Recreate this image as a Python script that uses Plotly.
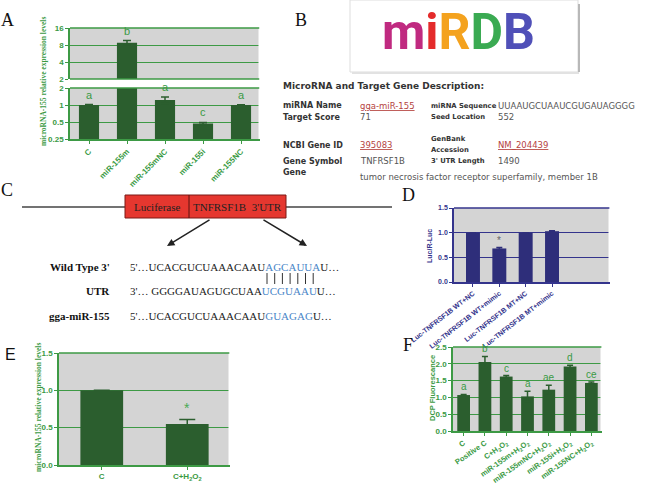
import math
import plotly.graph_objects as go

W, H = 650, 488
def px(x): return x / W
def py(y): return 1 - y / H

# ---------------- data ----------------
# Panel A (broken log axis)
a_cats = ["C", "miR-155m", "miR-155mNC", "miR-155i", "miR-155NC"]
a_vals = [1.0, 8.8, 1.22, 0.47, 1.0]
a_errs = [0.02, 0.8, 0.16, 0.02, 0.01]
a_letters = ["a", "b", "a", "c", "a"]
a_break = 2.0
a_lower_ticks = [0.25, 0.5, 1, 2]
a_upper_ticks = [2, 4, 8, 16]

# Panel D
d_cats = ["Luc-TNFRSF1B WT+NC", "Luc-TNFRSF1B WT+mimic",
          "Luc-TNFRSF1B MT+NC", "Luc-TNFRSF1B MT+mimic"]
d_vals = [1.0, 0.68, 1.0, 1.03]
d_errs = [0.0, 0.02, 0.0, 0.01]
d_marks = ["", "*", "", ""]

# Panel E
e_cats = ["C", "C+H<sub>2</sub>O<sub>2</sub>"]
e_vals = [1.0, 0.55]
e_errs = [0.0, 0.06]
e_marks = ["", "*"]

# Panel F
f_cats = ["C", "Positive C", "C+H<sub>2</sub>O<sub>2</sub>",
          "miR-155m+H<sub>2</sub>O<sub>2</sub>", "miR-155mNC+H<sub>2</sub>O<sub>2</sub>",
          "miR-155i+H<sub>2</sub>O<sub>2</sub>", "miR-155NC+H<sub>2</sub>O<sub>2</sub>"]
f_vals = [1.07, 2.05, 1.62, 1.03, 1.23, 1.92, 1.43]
f_errs = [0.02, 0.17, 0.03, 0.15, 0.13, 0.04, 0.03]
f_letters = ["a", "b", "c", "a", "ae", "d", "ce"]

# ---------------- styles ----------------
GBAR = "#2b5e2e"
GLINE = "#3d9a45"
GTXT = "#3a9a44"
NBAR = "#2e2e7a"
NLINE = "#34348c"
GREY = "#d4d4d4"
SANS = "Liberation Sans, Arial, sans-serif"
SERIF = "Liberation Serif, Times New Roman, serif"
VERD = "DejaVu Sans, Verdana, sans-serif"

fig = go.Figure()

def err(arr, color, width=4):
    return dict(type="data", array=arr, visible=True, color=color, thickness=1.5, width=width)

# A lower
fig.add_trace(go.Bar(x=a_cats, y=a_vals, width=0.53, marker_color=GBAR, marker_line_width=0,
                     error_y=err([e if v <= a_break else 0 for v, e in zip(a_vals, a_errs)], GBAR),
                     xaxis="x", yaxis="y", showlegend=False))
# A upper
fig.add_trace(go.Bar(x=a_cats, y=[v if v > a_break else None for v in a_vals], width=0.53,
                     marker_color=GBAR, marker_line_width=0,
                     error_y=err([e if v > a_break else 0 for v, e in zip(a_vals, a_errs)], GBAR),
                     xaxis="x2", yaxis="y2", showlegend=False))
# D
fig.add_trace(go.Bar(x=d_cats, y=d_vals, width=0.53, marker_color=NBAR, marker_line_width=0,
                     error_y=err(d_errs, NBAR, 3), xaxis="x3", yaxis="y3", showlegend=False))
# E
fig.add_trace(go.Bar(x=e_cats, y=e_vals, width=0.5, marker_color=GBAR, marker_line_width=0,
                     error_y=err(e_errs, GBAR, 8), xaxis="x4", yaxis="y4", showlegend=False))
# F
fig.add_trace(go.Bar(x=f_cats, y=f_vals, width=0.6, marker_color=GBAR, marker_line_width=0,
                     error_y=err(f_errs, GBAR, 3), xaxis="x5", yaxis="y5", showlegend=False))

def tf(color, size):
    return dict(family=SANS, size=size, color=color, weight="bold")

common_x = dict(type="category", showline=True, mirror=False, ticks="outside", ticklen=3,
                showgrid=False, zeroline=False, automargin=False, linewidth=1.5,
                showspikes=False)
common_y = dict(showline=True, mirror=False, ticks="outside", ticklen=3, showgrid=True,
                zeroline=False, automargin=False, linewidth=1.5, tickwidth=1.2,
                showspikes=False)

layout = dict(
    template="none",
    width=W, height=H, margin=dict(l=0, r=0, t=0, b=0, pad=0),
    paper_bgcolor="white", plot_bgcolor="rgba(0,0,0,0)", showlegend=False,
    xaxis=dict(**common_x, domain=[px(70), px(260)], anchor="y", range=[-0.5, 4.5],
               linecolor=GLINE, tickcolor=GLINE, tickangle=-45, tickfont=tf(GTXT, 8)),
    yaxis=dict(**common_y, domain=[py(139), py(88)], anchor="x", type="log",
               range=[math.log10(0.25), math.log10(a_break)],
               tickvals=a_lower_ticks, ticktext=[str(t) for t in a_lower_ticks],
               linecolor=GLINE, tickcolor=GLINE, gridcolor=GLINE, gridwidth=1.2,
               tickfont=tf(GTXT, 8)),
    xaxis2=dict(type="category", domain=[px(70), px(260)], anchor="y2", range=[-0.5, 4.5],
                showline=False, mirror=False, showticklabels=False, ticks="", showgrid=False,
                zeroline=False, automargin=False),
    yaxis2=dict(**common_y, domain=[py(79), py(28)], anchor="x2", type="log",
                range=[math.log10(a_break), math.log10(16)],
                tickvals=a_upper_ticks, ticktext=[str(t) for t in a_upper_ticks],
                linecolor=GLINE, tickcolor=GLINE, gridcolor=GLINE, gridwidth=1.2,
                tickfont=tf(GTXT, 8)),
    xaxis3=dict(**common_x, domain=[px(454), px(610)], anchor="y3", range=[-0.72, 5.2],
                linecolor=NLINE, tickcolor=NLINE, tickangle=-38, tickfont=tf(NLINE, 7)),
    yaxis3=dict(**common_y, domain=[py(282), py(208)], anchor="x3", range=[0, 1.5], dtick=0.5,
                tickformat=".1f", linecolor=NLINE, tickcolor=NLINE, gridcolor=NLINE,
                gridwidth=1.2, tickfont=tf(NLINE, 7)),
    xaxis4=dict(**common_x, domain=[px(59), px(230)], anchor="y4", range=[-0.5, 1.5],
                linecolor=GLINE, tickcolor=GLINE, tickangle=0, tickfont=tf(GTXT, 8)),
    yaxis4=dict(**common_y, domain=[py(465), py(353)], anchor="x4", range=[0, 1.5], dtick=0.5,
                tickformat=".1f", linecolor=GLINE, tickcolor=GLINE, gridcolor=GLINE,
                gridwidth=1.2, tickfont=tf(GTXT, 8)),
    xaxis5=dict(**common_x, domain=[px(453), px(602)], anchor="y5", range=[-0.5, 6.5],
                linecolor=GLINE, tickcolor=GLINE, tickangle=-35, tickfont=tf(GTXT, 7.5)),
    yaxis5=dict(**common_y, domain=[py(431), py(347)], anchor="x5", range=[0, 2.5], dtick=0.5,
                tickformat=".1f", linecolor=GLINE, tickcolor=GLINE, gridcolor=GLINE,
                gridwidth=1.2, tickfont=tf(GTXT, 8)),
)
fig.update_layout(**layout)

ann = []
shapes = []

subplots = [("x", "y"), ("x2", "y2"), ("x3", "y3"), ("x4", "y4"), ("x5", "y5")]
# grey plot backgrounds
for xr, yr in subplots:
    shapes.append(dict(type="rect", xref=xr + " domain", yref=yr + " domain", x0=0, x1=1,
                       y0=0, y1=1, fillcolor=GREY, line=dict(width=0), layer="below"))
# open right side: mask any vertical edge stroke there
for xr, yr in subplots:
    shapes.append(dict(type="line", xref=xr + " domain", yref=yr + " domain", x0=1, x1=1,
                       y0=0, y1=1, line=dict(color="white", width=3), layer="above"))
# frame lines at the top (and at the axis break)
for xr, yr, yv, col in [("x", "y", 1, GLINE), ("x2", "y2", 1, GLINE), ("x2", "y2", 0, GLINE),
                        ("x3", "y3", 1, NLINE), ("x4", "y4", 1, GLINE), ("x5", "y5", 1, GLINE)]:
    shapes.append(dict(type="line", xref=xr + " domain", yref=yr + " domain", x0=0, x1=0.996,
                       y0=yv, y1=yv, line=dict(color=col, width=1.5)))

def T(x, y, text, size=9, color="#333", family=VERD, xanchor="left", bold=False, angle=0,
      yanchor="middle"):
    ann.append(dict(x=px(x), y=py(y), xref="paper", yref="paper", text=text, showarrow=False,
                    xanchor=xanchor, yanchor=yanchor, textangle=angle,
                    font=dict(family=family, size=size, color=color,
                              weight="bold" if bold else "normal")))

# panel letters
T(7, 20, "A", 18, "#111", SERIF, "center")
T(301, 20, "B", 18, "#111", SERIF, "center")
T(7, 190, "C", 18, "#111", SERIF, "center")
T(408, 195, "D", 18, "#111", SERIF, "center")
T(10, 354, "E", 16, "#111", SANS, "center")
T(408, 345, "F", 18, "#111", SERIF, "center")

# axis titles
T(43, 82, "microRNA-155 relative expression levels", 7.5, GTXT, SERIF, "center", True, -90)
T(38, 408, "microRNA-155 relative expression levels", 7.5, GTXT, SERIF, "center", True, -90)
T(430, 246, "Luc/R-Luc", 7, NLINE, SANS, "center", True, -90)
T(432, 388, "DCP Fluorescance", 7.5, GTXT, SANS, "center", True, -90)

# significance letters
for c, v, e, l in zip(a_cats, a_vals, a_errs, a_letters):
    yr = "y2" if v > a_break else "y"
    ann.append(dict(x=c, y=math.log10(v + e), xref="x", yref=yr, text=l, showarrow=False,
                    yanchor="bottom", yshift=2, font=dict(family=SANS, size=11, color=GTXT)))
for c, v, e, l in zip(d_cats, d_vals, d_errs, d_marks):
    if l:
        ann.append(dict(x=c, y=v + e, xref="x3", yref="y3", text=l, showarrow=False,
                        yanchor="bottom", yshift=-1, font=dict(family=SANS, size=10, color="#666")))
for c, v, e, l in zip(e_cats, e_vals, e_errs, e_marks):
    if l:
        ann.append(dict(x=c, y=v + e, xref="x4", yref="y4", text=l, showarrow=False,
                        yanchor="bottom", yshift=1, font=dict(family=SANS, size=14, color="#4aaa55")))
for c, v, e, l in zip(f_cats, f_vals, f_errs, f_letters):
    ann.append(dict(x=c, y=v + e, xref="x5", yref="y5", text=l, showarrow=False,
                    yanchor="bottom", yshift=0, font=dict(family=SANS, size=10, color=GTXT)))

# ---------------- panel B ----------------
shapes.append(dict(type="rect", xref="paper", yref="paper", x0=px(350), x1=px(578),
                   y0=py(72), y1=py(0), line=dict(color="#dddddd", width=1), fillcolor="white",
                   layer="below"))
shapes.append(dict(type="line", xref="paper", yref="paper", x0=px(579), x1=px(579),
                   y0=py(72), y1=py(4), line=dict(color="#b8b8b8", width=2)))
shapes.append(dict(type="line", xref="paper", yref="paper", x0=px(352), x1=px(579),
                   y0=py(73), y1=py(73), line=dict(color="#e2e2e2", width=2)))
logo = ('<span style="color:#c02a80">m</span><span style="color:#e42b2b">i</span>'
        '<span style="color:#f4a21e">R</span><span style="color:#3aaa52">D</span>'
        '<span style="color:#5050b8">B</span>')
ann.append(dict(x=px(458), y=py(32), xref="paper", yref="paper", text=logo, showarrow=False,
                xanchor="center", yanchor="middle",
                font=dict(family="Liberation Sans Narrow, Roboto, sans-serif", size=50,
                          weight="bold")))

RED = "#b5433f"
LB = 8      # bold label size (col 1)
LB3 = 6.8   # bold label size (col 3)
VS = 8.5    # value size
T(281, 86, "MicroRNA and Target Gene Description:", 9, "#333", VERD, bold=True)
T(281, 106, "miRNA Name", LB, "#333", VERD, bold=True)
T(281, 117, "Target Score", LB, "#333", VERD, bold=True)
T(358, 106, "<u>gga-miR-155</u>", VS, RED)
T(358, 117, "71", VS, "#555")
T(429, 106, "miRNA Sequence", LB3, "#333", VERD, bold=True)
T(429, 117, "Seed Location", LB3, "#333", VERD, bold=True)
T(496, 106, "UUAAUGCUAAUCGUGAUAGGGG", VS, "#555")
T(496, 117, "552", VS, "#555")
T(281, 145, "NCBI Gene ID", LB, "#333", VERD, bold=True)
T(358, 145, "<u>395083</u>", VS, RED)
T(429, 139, "GenBank", LB3, "#333", VERD, bold=True)
T(429, 150, "Accession", LB3, "#333", VERD, bold=True)
T(496, 145, "<u>NM_204439</u>", VS, RED)
T(281, 161, "Gene Symbol", LB, "#333", VERD, bold=True)
T(358, 161, "TNFRSF1B", VS, "#555")
T(429, 161, "3' UTR Length", LB3, "#333", VERD, bold=True)
T(496, 161, "1490", VS, "#555")
T(281, 172, "Gene", LB, "#333", VERD, bold=True)
T(358, 177, "tumor necrosis factor receptor superfamily, member 1B", VS, "#555")

# ---------------- panel C ----------------
shapes.append(dict(type="line", xref="paper", yref="paper", x0=px(22), x1=px(125),
                   y0=py(207), y1=py(207), line=dict(color="#444", width=1.5)))
shapes.append(dict(type="line", xref="paper", yref="paper", x0=px(286), x1=px(392),
                   y0=py(207), y1=py(207), line=dict(color="#444", width=1.5)))
shapes.append(dict(type="rect", xref="paper", yref="paper", x0=px(125), x1=px(286),
                   y0=py(218), y1=py(195), fillcolor="#e5372f",
                   line=dict(color="#7a1a16", width=1)))
shapes.append(dict(type="line", xref="paper", yref="paper", x0=px(189), x1=px(189),
                   y0=py(218), y1=py(195), line=dict(color="#5a1410", width=1)))
T(157, 207, "Luciferase", 11, "#222", SERIF, "center")
T(237, 207, "TNFRSF1B  3'UTR", 11, "#222", SERIF, "center")
for hx, hy, tx, ty in [(167, 246, 211, 219), (307, 246, 262, 219)]:
    ann.append(dict(x=px(hx), y=py(hy), xref="paper", yref="paper", showarrow=True,
                    ax=tx - hx, ay=ty - hy, axref="pixel", ayref="pixel", text="",
                    arrowhead=2, arrowsize=1, arrowwidth=1.5, arrowcolor="#222"))
BLUE = "#4a86c8"
T(112, 267, "Wild Type 3'", 11, "#111", SERIF, "right", True)
T(112, 291, "UTR", 11, "#111", SERIF, "right", True)
T(112, 316, "gga-miR-155", 11, "#111", SERIF, "right", True)
T(128, 267, "5'…UCACGUCUAAACAAU<span style='color:%s'>AGCAUUA</span>U…" % BLUE, 11, "#222", SERIF)
T(128, 291, "3'… GGGGAUAGUGCUAA<span style='color:%s'>UCGUAAU</span>U…" % BLUE, 11, "#222", SERIF)
T(128, 316, "5'…UCACGUCUAAACAAU<span style='color:%s'>GUAGAG</span>U…" % BLUE, 11, "#222", SERIF)
for i in range(7):
    xx = 267 + i * 7.7
    shapes.append(dict(type="line", xref="paper", yref="paper", x0=px(xx), x1=px(xx),
                       y0=py(284), y1=py(273), line=dict(color="#333", width=1)))

fig.update_layout(annotations=ann, shapes=shapes)
fig.write_html("out.html", config={"displayModeBar": False},
               post_script="document.body.style.margin='0';")
